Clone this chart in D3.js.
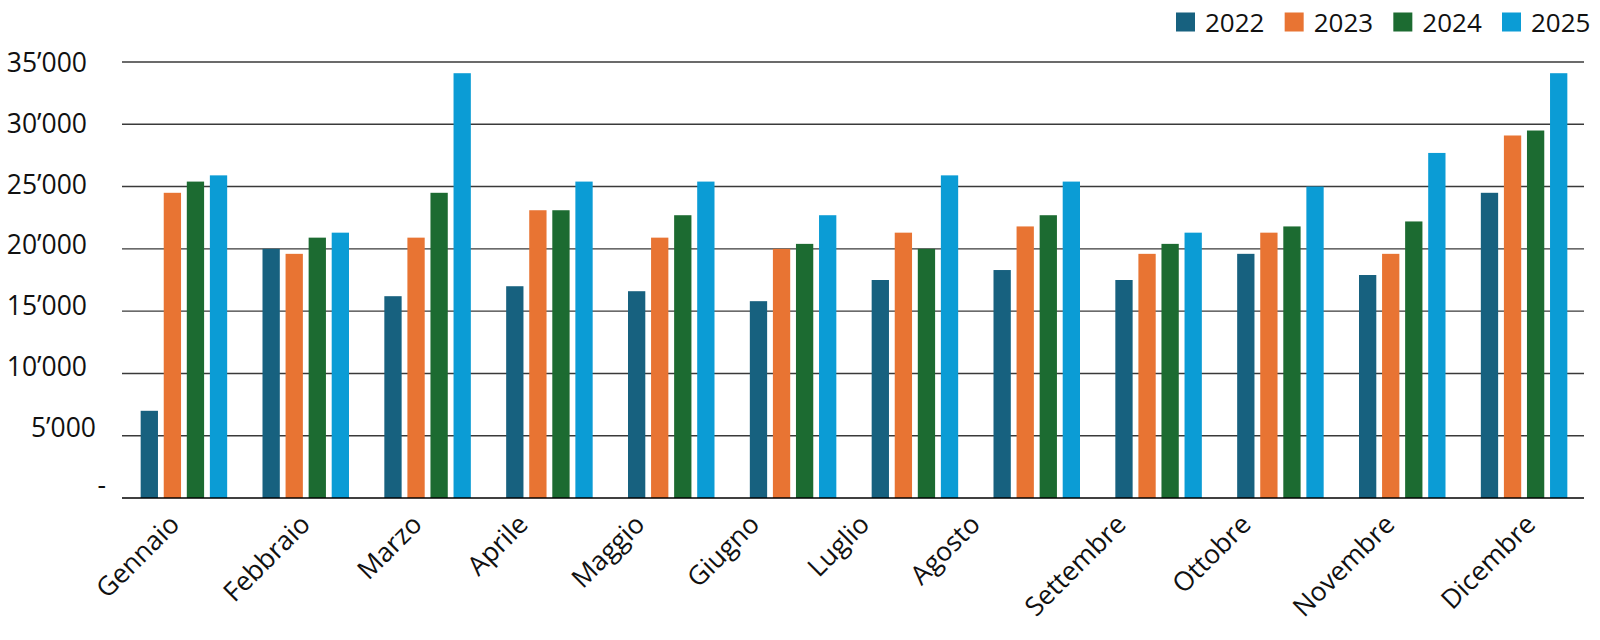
<!DOCTYPE html>
<html>
<head>
<meta charset="utf-8">
<script src="https://cdn.jsdelivr.net/npm/d3@7"></script>
<style>
  html, body { margin: 0; padding: 0; background: #fff; }
  svg { display: block; font-family: "Open Sans", "Noto Sans", sans-serif; }
</style>
</head>
<body>
<svg id="chart" width="1600" height="640"></svg>
<script>
// ---- data ----
const months = ["Gennaio", "Febbraio", "Marzo", "Aprile", "Maggio", "Giugno",
                "Luglio", "Agosto", "Settembre", "Ottobre", "Novembre", "Dicembre"];
const years = ["2022", "2023", "2024", "2025"];
const values2022 = [7000, 20000, 16200, 17000, 16600, 15800, 17500, 18300, 17500, 19600, 17900, 24500];
const values2023 = [24500, 19600, 20900, 23100, 20900, 20000, 21300, 21800, 19600, 21300, 19600, 29100];
const values2024 = [25400, 20900, 24500, 23100, 22700, 20400, 20000, 22700, 20400, 21800, 22200, 29500];
const values2025 = [25900, 21300, 34100, 25400, 25400, 22700, 25900, 25400, 21300, 25000, 27700, 34100];
const yTicks = [0, 5000, 10000, 15000, 20000, 25000, 30000, 35000];
const yTickLabels = ["-", "5\u2019000", "10\u2019000", "15\u2019000", "20\u2019000", "25\u2019000", "30\u2019000", "35\u2019000"];

// ---- styling / layout ----
const colors = { "2022": "#17617F", "2023": "#E87433", "2024": "#1C6B31", "2025": "#0B9CD5" };
const seriesByYear = { "2022": values2022, "2023": values2023, "2024": values2024, "2025": values2025 };
const plotLeft = 122, plotRight = 1584, plotTop = 62, plotBottom = 498;
const labelFont = 26.5, legendFont = 26;

const svg = d3.select("#chart");
svg.append("rect").attr("width", 1600).attr("height", 640).attr("fill", "#fff");

const x0 = d3.scaleBand().domain(months).range([plotLeft + 1, plotRight + 1])
  .paddingInner(0.29).paddingOuter(0.145);
const x1 = d3.scaleBand().domain(years).range([0, x0.bandwidth()]).paddingInner(0.25);
const y = d3.scaleLinear().domain([0, 35000]).range([plotBottom, plotTop]);
// tick labels sit slightly above their grid lines in the reference
const yLab = d3.scaleLinear().domain([0, 35000]).range([488, 62.5]);

// grid lines
svg.append("g").selectAll("line").data(yTicks.filter(d => d > 0)).join("line")
  .attr("x1", plotLeft).attr("x2", plotRight)
  .attr("y1", d => y(d)).attr("y2", d => y(d))
  .attr("stroke", "#3a3a3a").attr("stroke-width", 1.4);

// y tick labels
const labelEnd = d => d === 0 ? 106 : (d === 5000 ? 96 : 87);
svg.append("g").selectAll("text").data(yTicks).join("text")
  .attr("x", d => labelEnd(d))
  .attr("y", d => yLab(d))
  .attr("dy", d => d === 0 ? "0.22em" : "0.36em")
  .attr("text-anchor", "end")
  .attr("font-size", labelFont)
  .attr("fill", "#111")
  .text((d, i) => yTickLabels[i]);

// bars
const groups = svg.append("g").selectAll("g").data(months).join("g")
  .attr("transform", d => `translate(${x0(d)},0)`);
groups.selectAll("rect")
  .data((m, i) => years.map(yr => ({ yr, v: seriesByYear[yr][i] })))
  .join("rect")
  .attr("x", d => x1(d.yr))
  .attr("width", x1.bandwidth())
  .attr("y", d => y(d.v))
  .attr("height", d => y(0) - y(d.v))
  .attr("fill", d => colors[d.yr]);

// baseline axis
svg.append("line").attr("x1", plotLeft).attr("x2", plotRight)
  .attr("y1", y(0)).attr("y2", y(0))
  .attr("stroke", "#000").attr("stroke-width", 1.6);

// x labels, rotated
const labelNudge = [-3, 6, -4, -20, -25, -32, -44, -55, -31, -28, -6, 13];
svg.append("g").selectAll("text").data(months).join("text")
  .attr("transform", (d, i) => `translate(${x0(d) + x0.bandwidth() / 2 + labelNudge[i]},526) rotate(-45)`)
  .attr("text-anchor", "end")
  .attr("font-size", labelFont)
  .attr("fill", "#111")
  .text(d => d);

// legend
const lx = d3.scalePoint().domain(years).range([1176, 1502]);
const leg = svg.append("g").selectAll("g").data(years).join("g")
  .attr("transform", d => `translate(${lx(d)},0)`);
leg.append("rect").attr("x", 0).attr("y", 12.5).attr("width", 19).attr("height", 19)
  .attr("fill", d => colors[d]);
leg.append("text").attr("x", 29).attr("y", 31.7)
  .attr("font-size", legendFont).attr("fill", "#111").text(d => d);
</script>
</body>
</html>
